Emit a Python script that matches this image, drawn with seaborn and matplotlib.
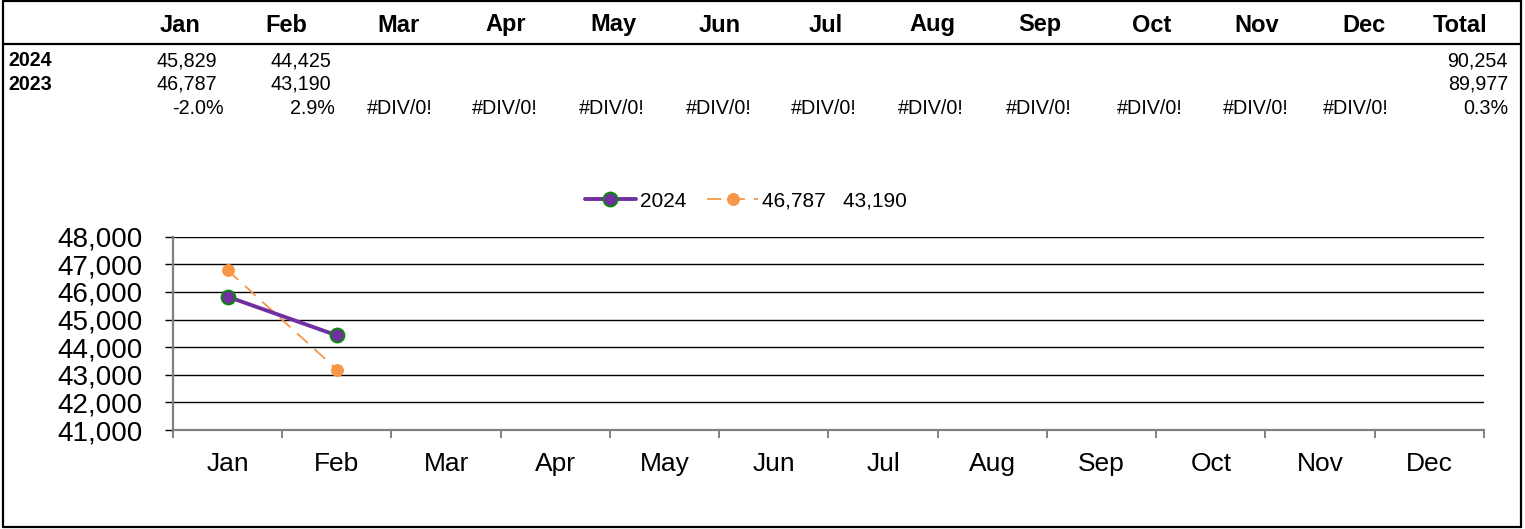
import numpy as np
import pandas as pd
import matplotlib
matplotlib.use("Agg")
import matplotlib.pyplot as plt
import seaborn as sns
from matplotlib.lines import Line2D
from matplotlib.ticker import FuncFormatter, FixedLocator

# 数据
months = ['Jan', 'Feb', 'Mar', 'Apr', 'May', 'Jun', 'Jul', 'Aug', 'Sep', 'Oct', 'Nov', 'Dec']
sales_2024 = [45829, 44425]
sales_2023 = [46787, 43190]
label_2024 = '2024'
label_2023 = '46,787   43,190'

W, H = 1525, 529
sns.set_theme(style='white')
plt.rcParams['font.family'] = ['Liberation Sans', 'DejaVu Sans']
plt.rcParams['text.color'] = 'black'

fig = plt.figure(figsize=(W / 100, H / 100), dpi=100)


def fx(px):
    return px / W


def fy(py):
    return 1 - py / H


# ---- 上方表格 ----
header_x = [180, 286, 398, 506, 613, 720, 826, 932, 1040, 1152, 1257, 1364]
val_right = [217, 331]
pct_right = [224, 335, 433, 538, 645, 752, 857, 964, 1072, 1183, 1289, 1389]
total_right = 1508
row_y = {'head': 25, '2024': 61, '2023': 84, 'pct': 108}
fs_head = 17
fs_cell = 14.2

for x, m in zip(header_x, months):
    fig.text(fx(x), fy(row_y['head']), m, ha='center', va='center',
             fontsize=fs_head, fontweight='bold', color='black')
fig.text(fx(1460), fy(row_y['head']), 'Total', ha='center', va='center',
         fontsize=fs_head, fontweight='bold', color='black')

fig.text(fx(8), fy(row_y['2024']), '2024', ha='left', va='center',
         fontsize=fs_cell, fontweight='bold')
fig.text(fx(8), fy(row_y['2023']), '2023', ha='left', va='center',
         fontsize=fs_cell, fontweight='bold')

for i, (a, b) in enumerate(zip(sales_2024, sales_2023)):
    fig.text(fx(val_right[i]), fy(row_y['2024']), f'{a:,}', ha='right', va='center', fontsize=fs_cell)
    fig.text(fx(val_right[i]), fy(row_y['2023']), f'{b:,}', ha='right', va='center', fontsize=fs_cell)

for i in range(len(months)):
    if i < len(sales_2024):
        s = f'{(sales_2024[i] / sales_2023[i] - 1) * 100:.1f}%'
    else:
        s = '#DIV/0!'
    fig.text(fx(pct_right[i]), fy(row_y['pct']), s, ha='right', va='center', fontsize=fs_cell)

tot24, tot23 = sum(sales_2024), sum(sales_2023)
fig.text(fx(total_right), fy(row_y['2024']), f'{tot24:,}', ha='right', va='center', fontsize=fs_cell)
fig.text(fx(total_right), fy(row_y['2023']), f'{tot23:,}', ha='right', va='center', fontsize=fs_cell)
fig.text(fx(total_right), fy(row_y['pct']), f'{(tot24 / tot23 - 1) * 100:.1f}%',
         ha='right', va='center', fontsize=fs_cell)

# 边框
border = dict(color='black', linewidth=1.6, transform=fig.transFigure)
fig.add_artist(Line2D([fx(3), fx(3)], [fy(0.5), fy(527)], **border))
fig.add_artist(Line2D([fx(1521), fx(1521)], [fy(0.5), fy(527)], **border))
fig.add_artist(Line2D([fx(3), fx(1521)], [fy(0.5), fy(0.5)], **border))
fig.add_artist(Line2D([fx(3), fx(1521)], [fy(527), fy(527)], **border))
fig.add_artist(Line2D([fx(3), fx(1521)], [fy(44), fy(44)], **border))

# ---- 折线图 ----
ax = fig.add_axes([fx(173), fy(430), fx(1484 - 173), (430 - 236.7) / H])

df24 = pd.DataFrame({'x': range(len(sales_2024)), 'y': sales_2024})
df23 = pd.DataFrame({'x': range(len(sales_2023)), 'y': sales_2023})

sns.lineplot(data=df24, x='x', y='y', ax=ax, color='#7030A0', linewidth=2.8,
             marker='o', markersize=10, markerfacecolor='#7030A0',
             markeredgecolor='#0A8A0A', markeredgewidth=1.4, label=label_2024, zorder=4)
sns.lineplot(data=df23, x='x', y='y', ax=ax, color='#F79646', linewidth=1.3,
             linestyle=(0, (8, 5)), marker='o', markersize=8.5,
             markerfacecolor='#F79646', markeredgecolor='#F79646', label=label_2023, zorder=3)

ax.set_xlim(-0.5, len(months) - 0.5)
ax.set_ylim(41000, 48000)
ax.set_yticks(np.arange(41000, 48001, 1000))
ax.yaxis.set_major_formatter(FuncFormatter(lambda v, p: f'{int(v):,}'))
ax.set_xticks(range(len(months)))
ax.set_xticklabels(months)
ax.xaxis.set_minor_locator(FixedLocator(np.arange(-0.5, len(months), 1.0)))
ax.set_xlabel('')
ax.set_ylabel('')

ax.grid(False)
for v in np.arange(42000, 48001, 1000):
    ax.axhline(v, color='black', linewidth=1.0, zorder=1)

for side in ['top', 'right']:
    ax.spines[side].set_visible(False)
ax.spines['left'].set_color('#808080')
ax.spines['left'].set_linewidth(1.6)
ax.spines['bottom'].set_color('#808080')
ax.spines['bottom'].set_linewidth(1.6)

ax.tick_params(axis='y', which='major', length=6, width=1.0, color='black',
               labelsize=20, pad=16, left=True, labelcolor='black')
ax.tick_params(axis='x', which='major', length=0, labelsize=19, pad=15.5, labelcolor='black')
ax.tick_params(axis='x', which='minor', length=6, width=1.4, color='#808080', bottom=True)

leg = ax.legend(loc='center', bbox_to_anchor=(fx(746), fy(201)),
                bbox_transform=fig.transFigure, ncol=2, frameon=False,
                fontsize=15, handlelength=2.45, handletextpad=0.2, columnspacing=1.0)
for t in leg.get_texts():
    t.set_color('black')

fig.savefig('out.png', dpi=100, facecolor='white')
